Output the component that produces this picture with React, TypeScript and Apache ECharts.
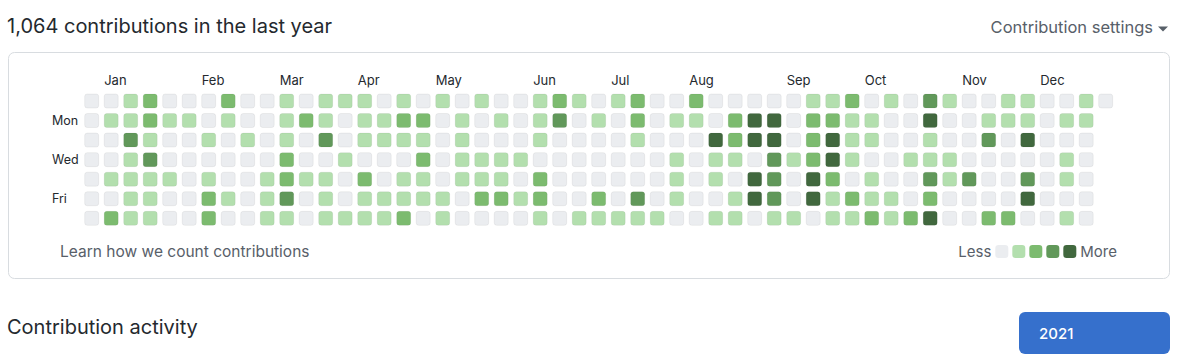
import React, { useEffect, useRef } from "react";
import * as echarts from "echarts";

// Contribution levels (0-4), one array per weekday, 53 weeks (Sun row has the extra day)
const sun = [0,0,1,2,0,0,0,2,0,0, 1,0,1,1,1,0,1,0,1,0,1, 0,0,1,2,1,0,1,2,0,0,2, 0,0,0,0,0,1,1,2,0,1,0, 3,1,0,0,1,1,0,0,1,0];
const mon = [0,1,1,2,1,1,0,1,0,0, 1,2,1,0,1,1,2,2,0,1,0, 1,0,1,3,0,1,0,2,0,1,1, 0,2,4,4,0,2,2,1,1,0,0, 4,0,0,1,1,1,0,1,1];
const tue = [0,0,3,1,0,0,1,0,1,0, 1,0,3,0,1,1,1,1,0,1,0, 0,0,1,0,0,0,0,1,0,0,0, 4,2,4,4,0,2,4,1,1,0,0, 1,0,0,3,0,4,0,0,0];
const wed = [0,0,1,3,0,0,0,0,0,0, 2,0,0,1,0,0,0,2,0,1,1, 1,1,0,0,0,0,0,0,0,1,0, 1,1,0,3,1,2,4,1,0,0,1, 1,1,0,0,0,0,0,1,0];
const thu = [0,1,1,1,1,0,1,0,0,1, 2,1,1,0,2,0,1,1,0,1,1, 1,0,2,0,0,0,0,0,0,1,0, 1,0,4,3,0,4,2,0,1,0,0, 3,1,3,0,0,3,0,1,0];
const fri = [0,0,1,1,0,0,2,1,0,1, 3,0,1,0,1,1,1,1,1,0,2, 2,1,2,0,0,2,0,3,0,1,0, 0,1,4,3,0,4,1,2,1,1,0, 2,0,0,0,0,4,0,0,0];
const sat = [0,2,1,1,0,0,2,0,0,1, 1,0,1,1,1,1,2,0,1,0,0, 0,0,1,0,1,1,1,1,1,0,0, 1,1,0,1,1,0,1,1,2,1,2, 4,0,0,2,2,0,0,1,0];

const dayLabels = ["", "Mon", "", "Wed", "", "Fri", ""];
const monthNames = ["Jan", "Feb", "Mar", "Apr", "May", "Jun", "Jul", "Aug", "Sep", "Oct", "Nov", "Dec"];
const monthStartWeek = [1, 6, 10, 14, 18, 23, 27, 31, 36, 40, 45, 49];
const levelColors = ["#ebedf0", "#b3dfae", "#7cbb6f", "#61985a", "#41683e"];
const totalText = "1,064 contributions in the last year";
const yearText = "2021";

const FONT = "Inter, 'Liberation Sans', sans-serif";

export default function App() {
  const ref = useRef<HTMLDivElement>(null);
  useEffect(() => {
    if (!ref.current) return;
    const chart = echarts.init(ref.current, undefined, { renderer: "svg" });
    const rows = [sun, mon, tue, wed, thu, fri, sat];
    const weeks = Array.from({ length: 53 }, (_, i) => String(i));
    const cells: number[][] = [];
    rows.forEach((r, d) => r.forEach((v, w) => cells.push([w, d, v])));
    const months = monthNames.map((m, i) => [monthStartWeek[i], 0, m]);

    chart.setOption({
      animation: false,
      grid: { left: 81.95, top: 91.2, width: 1033.5, height: 136.9 },
      xAxis: {
        type: "category",
        data: weeks,
        axisLine: { show: false },
        axisTick: { show: false },
        axisLabel: { show: false },
        splitLine: { show: false },
      },
      yAxis: {
        type: "category",
        data: dayLabels.map((_, i) => String(i)),
        inverse: true,
        axisLine: { show: false },
        axisTick: { show: false },
        splitLine: { show: false },
        axisLabel: {
          interval: 0,
          align: "left",
          margin: 30,
          formatter: (v: string) => dayLabels[Number(v)],
          color: "#24292e",
          fontSize: 12.5,
          fontFamily: FONT,
        },
      },
      visualMap: {
        type: "piecewise",
        seriesIndex: 0,
        dimension: 2,
        orient: "horizontal",
        right: 83,
        top: 244,
        padding: 0,
        itemWidth: 13,
        itemHeight: 13,
        itemGap: 4,
        textGap: 5,
        itemSymbol: "roundRect",
        text: ["More", "Less"],
        textStyle: { color: "#586069", fontSize: 15, fontFamily: FONT },
        hoverLink: false,
        selectedMode: false,
        pieces: levelColors.map((c, i) => ({ value: i, color: c })),
      },
      series: [
        {
          type: "custom",
          data: cells,
          encode: { x: 0, y: 1 },
          renderItem: (params: any, api: any) => {
            const p = api.coord([api.value(0), api.value(1)]);
            return {
              type: "rect",
              shape: { x: p[0] - 7, y: p[1] - 7, width: 14, height: 14, r: 2.5 },
              style: { fill: api.visual("color"), stroke: "rgba(27,31,35,0.06)", lineWidth: 1 },
            };
          },
        },
        {
          type: "custom",
          data: months,
          encode: { x: 0, y: 1 },
          silent: true,
          renderItem: (params: any, api: any) => {
            const p = api.coord([api.value(0), 0]);
            return {
              type: "text",
              x: p[0] - 7,
              y: p[1] - 21,
              style: {
                text: months[params.dataIndex][2] as string,
                fill: "#24292e",
                fontSize: 13,
                fontFamily: FONT,
                verticalAlign: "middle",
                align: "left",
              },
            };
          },
        },
      ],
      graphic: [
        {
          type: "text", x: 7, y: 26,
          style: { text: totalText, fill: "#24292e", fontSize: 20, fontFamily: FONT, verticalAlign: "middle" },
        },
        {
          type: "text", x: 1153, y: 27,
          style: { text: "Contribution settings", fill: "#586069", fontSize: 16.5, fontFamily: FONT, align: "right", verticalAlign: "middle" },
        },
        {
          type: "polygon",
          shape: { points: [[1158, 26.5], [1168, 26.5], [1163, 31.5]] },
          style: { fill: "#586069" },
        },
        {
          type: "rect", z: -1,
          shape: { x: 8.5, y: 52.5, width: 1161, height: 226, r: 6 },
          style: { fill: "#fff", stroke: "#d8dce0", lineWidth: 1 },
        },
        {
          type: "text", x: 60, y: 251,
          style: { text: "Learn how we count contributions", fill: "#586069", fontSize: 15.5, fontFamily: FONT, verticalAlign: "middle" },
        },
        {
          type: "text", x: 7, y: 327,
          style: { text: "Contribution activity", fill: "#24292e", fontSize: 20, fontFamily: FONT, verticalAlign: "middle" },
        },
        {
          type: "rect",
          shape: { x: 1019, y: 312, width: 151, height: 42, r: 6 },
          style: { fill: "#3670cc" },
        },
        {
          type: "text", x: 1039, y: 333,
          style: { text: yearText, fill: "#ffffff", fontSize: 15, fontWeight: 500, fontFamily: FONT, verticalAlign: "middle" },
        },
      ],
    });
    return () => chart.dispose();
  }, []);
  return <div ref={ref} style={{ position: "fixed", left: 0, top: 0, width: 1200, height: 363, background: "#fff" }} />;
}
